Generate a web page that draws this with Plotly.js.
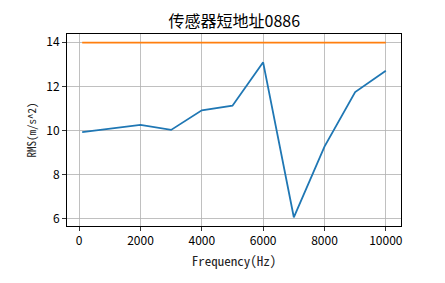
<!DOCTYPE html>
<html>
<head>
<meta charset="utf-8">
<script src="https://cdn.plot.ly/plotly-3.0.1.min.js"></script>
<style>html,body{margin:0;padding:0;background:#fff;}#chart{width:445px;height:283px;}</style>
</head>
<body>
<div id="chart"></div>
<script>
const frequency = [100, 1000, 2000, 3000, 4000, 5000, 6000, 7000, 8000, 9000, 10000];
const rmsValues = [9.92, 10.08, 10.25, 10.02, 10.91, 11.12, 13.09, 6.05, 9.26, 11.74, 12.71];
const limitValues = [13.98, 13.98, 13.98, 13.98, 13.98, 13.98, 13.98, 13.98, 13.98, 13.98, 13.98];
const xTicks = [0, 2000, 4000, 6000, 8000, 10000];
const yTicks = [6, 8, 10, 12, 14];
const titleText = '传感器短地址0886';
const xLabel = 'Frequency(Hz)';
const yLabel = 'RMS(m/s^2)';

const font = '"Noto Sans CJK SC", "DejaVu Sans", sans-serif';
const monoFont = '"Noto Sans Mono CJK SC", "Noto Sans CJK SC", "DejaVu Sans", sans-serif';
const traces = [
  {x: frequency, y: rmsValues, mode: 'lines', line: {color: '#1f77b4', width: 1.8}, hoverinfo: 'none'},
  {x: frequency, y: limitValues, mode: 'lines', line: {color: '#ff7f0e', width: 1.8}, hoverinfo: 'none'}
];
const axisCommon = {
  showline: true, mirror: true, linecolor: '#000', linewidth: 1,
  showgrid: true, gridcolor: '#b0b0b0', gridwidth: 0.8,
  ticks: 'outside', ticklen: 4, tickwidth: 0.8, tickcolor: '#000',
  zeroline: false, tickfont: {family: font, size: 12, color: '#000'}
};
const layout = {
  width: 445, height: 283,
  margin: {l: 67, r: 44, t: 34, b: 57},
  paper_bgcolor: '#fff', plot_bgcolor: '#fff',
  showlegend: false,
  title: {text: titleText, font: {family: font, size: 16, color: '#000'}, x: 0.5265, xanchor: 'center', y: 0.925, yanchor: 'middle'},
  xaxis: Object.assign({}, axisCommon, {
    range: [-395, 10495], tickvals: xTicks, ticktext: xTicks.map(String),
    title: {text: xLabel, font: {family: monoFont, size: 13, color: '#222'}, standoff: 9}
  }),
  yaxis: Object.assign({}, axisCommon, {
    range: [5.654, 14.376], tickvals: yTicks, ticktext: yTicks.map(String),
    title: {text: yLabel, font: {family: monoFont, size: 11, color: '#222'}, standoff: 7}
  })
};
Plotly.newPlot('chart', traces, layout, {staticPlot: true, displayModeBar: false});
</script>
</body>
</html>
